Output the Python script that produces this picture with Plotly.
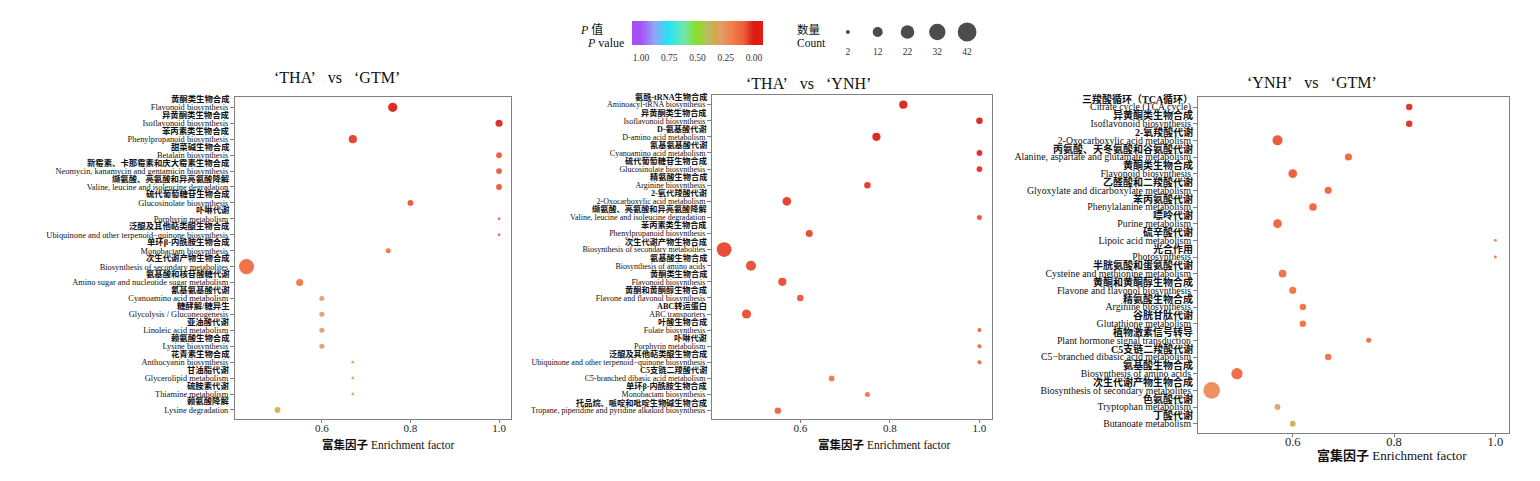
import plotly.graph_objects as go

FONT = "Liberation Serif, 'Noto Sans CJK SC', serif"
OFF = 8                      # page body margin
W, H = 1540 - OFF, 481 - OFF


def fx(px):
    return (px - OFF) / W


def fy(py):
    return 1 - (py - OFF) / H


# ---------------- data ----------------
en1 = ["Flavonoid biosynthesis", "Isoflavonoid biosynthesis", "Phenylpropanoid biosynthesis",
       "Betalain biosynthesis", "Neomycin, kanamycin and gentamicin biosynthesis",
       "Valine, leucine and isoleucine degradation", "Glucosinolate biosynthesis",
       "Porphyrin metabolism", "Ubiquinone and other terpenoid\u2212quinone biosynthesis",
       "Monobactam biosynthesis", "Biosynthesis of secondary metabolites",
       "Amino sugar and nucleotide sugar metabolism", "Cyanoamino acid metabolism",
       "Glycolysis / Gluconeogenesis", "Linoleic acid metabolism", "Lysine biosynthesis",
       "Anthocyanin biosynthesis", "Glycerolipid metabolism", "Thiamine metabolism",
       "Lysine degradation"]
cn1 = ["黄酮类生物合成", "异黄酮类生物合成", "苯丙素类生物合成", "甜菜碱生物合成",
       "新霉素、卡那霉素和庆大霉素生物合成", "缬氨酸、亮氨酸和异亮氨酸降解", "硫代葡萄糖苷生物合成",
       "卟啉代谢", "泛醌及其他萜类醌生物合成", "单环β-内酰胺生物合成", "次生代谢产物生物合成",
       "氨基酸和核苷酸糖代谢", "氰基氨基酸代谢", "糖酵解/糖异生", "亚油酸代谢", "赖氨酸生物合成",
       "花青素生物合成", "甘油脂代谢", "硫胺素代谢", "赖氨酸降解"]
ef1 = [0.76, 1.0, 0.67, 1.0, 1.0, 1.0, 0.80, 1.0, 1.0, 0.75, 0.43, 0.55, 0.60, 0.60, 0.60, 0.60,
       0.67, 0.67, 0.67, 0.50]
cnt1 = [10, 6, 8, 4, 4, 4, 4, 1, 1, 3, 27, 6, 3, 3, 3, 3, 1, 1, 1, 4]
p1 = [0.0, 0.01, 0.04, 0.08, 0.08, 0.08, 0.07, 0.15, 0.15, 0.15, 0.12, 0.15, 0.29, 0.29, 0.29,
      0.29, 0.40, 0.40, 0.40, 0.36]

en2 = ["Aminoacyl-tRNA biosynthesis", "Isoflavonoid biosynthesis", "D-amino acid metabolism",
       "Cyanoamino acid metabolism", "Glucosinolate biosynthesis", "Arginine biosynthesis",
       "2-Oxocarboxylic acid metabolism", "Valine, leucine and isoleucine degradation",
       "Phenylpropanoid biosynthesis", "Biosynthesis of secondary metabolites",
       "Biosynthesis of amino acids", "Flavonoid biosynthesis", "Flavone and flavonol biosynthesis",
       "ABC transporters", "Folate biosynthesis", "Porphyrin metabolism",
       "Ubiquinone and other terpenoid\u2212quinone biosynthesis",
       "C5-branched dibasic acid metabolism", "Monobactam biosynthesis",
       "Tropane, piperidine and pyridine alkaloid biosynthesis"]
cn2 = ["氨酰-tRNA生物合成", "异黄酮类生物合成", "D-氨基酸代谢", "氰基氨基酸代谢", "硫代葡萄糖苷生物合成",
       "精氨酸生物合成", "2-氧代羧酸代谢", "缬氨酸、亮氨酸和异亮氨酸降解", "苯丙素类生物合成",
       "次生代谢产物生物合成", "氨基酸生物合成", "黄酮类生物合成", "黄酮和黄酮醇生物合成", "ABC转运蛋白",
       "叶酸生物合成", "卟啉代谢", "泛醌及其他萜类醌生物合成", "C5支链二羧酸代谢", "单环β-内酰胺生物合成",
       "托品烷、哌啶和吡啶生物碱生物合成"]
ef2 = [0.83, 1.0, 0.77, 1.0, 1.0, 0.75, 0.57, 1.0, 0.62, 0.43, 0.49, 0.56, 0.60, 0.48, 1.0, 1.0,
       1.0, 0.67, 0.75, 0.55]
cnt2 = [8, 5, 8, 4, 4, 5, 9, 3, 6, 26, 12, 8, 5, 10, 2, 2, 2, 4, 3, 5]
p2 = [0.0, 0.0, 0.0, 0.01, 0.02, 0.03, 0.04, 0.07, 0.05, 0.05, 0.06, 0.06, 0.07, 0.06, 0.10,
      0.10, 0.10, 0.15, 0.15, 0.09]

en3 = ["Citrate cycle (TCA cycle)", "Isoflavonoid biosynthesis", "2-Oxocarboxylic acid metabolism",
       "Alanine, aspartate and glutamate metabolism", "Flavonoid biosynthesis",
       "Glyoxylate and dicarboxylate metabolism", "Phenylalanine metabolism", "Purine metabolism",
       "Lipoic acid metabolism", "Photosynthesis", "Cysteine and methionine metabolism",
       "Flavone and flavonol biosynthesis", "Arginine biosynthesis", "Glutathione metabolism",
       "Plant hormone signal transduction", "C5\u2212branched dibasic acid metabolism",
       "Biosynthesis of amino acids", "Biosynthesis of secondary metabolites",
       "Tryptophan metabolism", "Butanoate metabolism"]
cn3 = ["三羧酸循环（TCA循环）", "异黄酮类生物合成", "2-氧羧酸代谢", "丙氨酸、天冬氨酸和谷氨酸代谢",
       "黄酮类生物合成", "乙醛酸和二羧酸代谢", "苯丙氨酸代谢", "嘌呤代谢", "硫辛酸代谢", "光合作用",
       "半胱氨酸和蛋氨酸代谢", "黄酮和黄酮醇生物合成", "精氨酸生物合成", "谷胱甘肽代谢", "植物激素信号转导",
       "C5支链二羧酸代谢", "氨基酸生物合成", "次生代谢产物生物合成", "色氨酸代谢", "丁酸代谢"]
ef3 = [0.83, 0.83, 0.57, 0.71, 0.60, 0.67, 0.64, 0.57, 1.0, 1.0, 0.58, 0.60, 0.62, 0.62, 0.75,
       0.67, 0.49, 0.44, 0.57, 0.60]
cnt3 = [5, 5, 12, 6, 9, 6, 7, 9, 1, 1, 7, 6, 5, 5, 3, 5, 15, 33, 4, 4]
p3 = [0.02, 0.02, 0.07, 0.09, 0.08, 0.09, 0.09, 0.09, 0.17, 0.17, 0.12, 0.13, 0.13, 0.13, 0.12,
      0.13, 0.10, 0.22, 0.30, 0.34]

titles = ["\u2018THA\u2019\u2002 vs \u2002\u2018GTM\u2019",
          "\u2018THA\u2019\u2002 vs \u2002\u2018YNH\u2019",
          "\u2018YNH\u2019\u2002 vs \u2002\u2018GTM\u2019"]
xtitle = "<b>富集因子</b> Enrichment factor"
legend_counts = [2, 12, 22, 32, 42]
pval_ticks = [1.00, 0.75, 0.50, 0.25, 0.00]

# ---------------- styling / layout geometry ----------------
SREF = 4 / (2 * 2.9 ** 2)          # rendered diameter ~ 2.9*sqrt(count)
CMIN, CMAX = -0.08, 1.08
CS = [[0.0, '#A64CF7'], [0.069, '#A652F7'], [0.17, '#92A4F7'], [0.28, '#22E4F4'],
      [0.39, '#6CE6B4'], [0.5, '#88E020'], [0.58, '#BDB96C'], [0.63, '#D4AA45'],
      [0.68, '#E09C68'], [0.76, '#F2804C'], [0.85, '#F0603A'], [0.93, '#DA1A14'],
      [1.0, '#E41C10']]

panels = [
    dict(en=en1, cn=cn1, ef=ef1, cnt=cnt1, p=p1, x=(235, 511), y=(97, 419), xr=[0.404, 1.027],
         yr=[19.57, -0.65], fs_en=8.4, fs_cn=8.4, fs_tick=11, title_xy=(337, 77),
         xt_xy=(388, 444), fs_xt=11.5, cn_off=0.53, stand=-4),
    dict(en=en2, cn=cn2, ef=ef2, cnt=cnt2, p=p2, x=(712, 992), y=(95, 419), xr=[0.403, 1.028],
         yr=[19.52, -0.6], fs_en=8.0, fs_cn=8.2, fs_tick=11, title_xy=(808, 83),
         xt_xy=(884, 444), fs_xt=11.5, cn_off=0.5, stand=-4),
    dict(en=en3, cn=cn3, ef=ef3, cnt=cnt3, p=p3, x=(1198, 1509), y=(97, 433), xr=[0.413, 1.027],
         yr=[19.56, -0.6], fs_en=9.8, fs_cn=10.0, fs_tick=12.5, title_xy=(1312, 82),
         xt_xy=(1392, 455), fs_xt=13, cn_off=0.5, stand=-6),
]

fig = go.Figure()
layout = dict(width=W, height=H, margin=dict(l=0, r=0, t=0, b=0), template='none',
              paper_bgcolor='white', plot_bgcolor='white', showlegend=False,
              font=dict(family=FONT, color='#111'))
annotations = []

for k, pn in enumerate(panels):
    n = '' if k == 0 else str(k + 1)
    xa, ya = 'xaxis' + n, 'yaxis' + n
    color = [1 - v for v in pn['p']]
    marker = dict(size=pn['cnt'], sizemode='area', sizeref=SREF, color=color, colorscale=CS,
                  cmin=CMIN, cmax=CMAX, opacity=0.92, line=dict(width=0))
    if k == 0:
        marker['showscale'] = True
        marker['colorbar'] = dict(
            orientation='h', x=fx(697.5), xanchor='center', y=fy(21), yanchor='top',
            len=131 / W, lenmode='fraction', thickness=24, thicknessmode='pixels',
            outlinewidth=0, xpad=0, ypad=0, ticks='outside', ticklen=5,
            tickcolor='rgba(0,0,0,0)',
            tickvals=[1 - v for v in pval_ticks], ticktext=[f"{v:.2f}" for v in pval_ticks],
            tickfont=dict(size=9.5, family=FONT, color='#333'))
    fig.add_trace(go.Scatter(x=pn['ef'], y=pn['en'], mode='markers', marker=marker,
                             cliponaxis=False, xaxis='x' + n, yaxis='y' + n, hoverinfo='x+y'))
    layout[xa] = dict(domain=[fx(pn['x'][0]), fx(pn['x'][1])], anchor='y' + n,
                      range=pn['xr'], tick0=0, dtick=0.2, tickformat='.1f',
                      showgrid=False, zeroline=False, showline=True, mirror=True,
                      linecolor='#808080', linewidth=1, ticks='outside', ticklen=3,
                      tickcolor='#808080', automargin=False, ticklabelstandoff=pn['stand'],
                      tickfont=dict(size=pn['fs_tick'], family=FONT, color='#222'))
    layout[ya] = dict(domain=[fy(pn['y'][1]), fy(pn['y'][0])], anchor='x' + n,
                      type='category', categoryorder='array', categoryarray=pn['en'],
                      range=pn['yr'], autorange=False,
                      showgrid=False, zeroline=False, showline=True, mirror=True,
                      linecolor='#808080', linewidth=1, ticks='outside', ticklen=4,
                      tickcolor='#808080', automargin=False,
                      tickfont=dict(size=pn['fs_en'], family=FONT, color='#111'))
    for i, c in enumerate(pn['cn']):
        annotations.append(dict(x=0, xref='x' + n + ' domain', y=i - pn['cn_off'], yref='y' + n,
                                xanchor='right', yanchor='middle', xshift=-4, showarrow=False,
                                text='<b>' + c + '</b>', borderpad=0,
                                font=dict(size=pn['fs_cn'], family=FONT, color='#111')))
    annotations.append(dict(x=fx(pn['title_xy'][0]), y=fy(pn['title_xy'][1]), xref='paper',
                            yref='paper', xanchor='center', yanchor='middle', showarrow=False,
                            text=titles[k], font=dict(size=16, family=FONT, color='#111')))
    annotations.append(dict(x=fx(pn['xt_xy'][0]), y=fy(pn['xt_xy'][1]), xref='paper',
                            yref='paper', xanchor='center', yanchor='middle', showarrow=False,
                            text=xtitle, font=dict(size=pn['fs_xt'], family=FONT, color='#111')))

# size legend
fig.add_trace(go.Scatter(x=[str(c) for c in legend_counts], y=[1] * len(legend_counts),
                         mode='markers', xaxis='x4', yaxis='y4', hoverinfo='skip',
                         cliponaxis=False,
                         marker=dict(size=legend_counts, sizemode='area', sizeref=SREF,
                                     color='black', line=dict(width=0))))
layout['xaxis4'] = dict(domain=[fx(833), fx(982)], anchor='y4', type='category',
                        range=[-0.5, 4.5], showgrid=False, zeroline=False, showline=False,
                        ticks='', automargin=False,
                        tickfont=dict(size=9.5, family=FONT, color='#333'))
layout['yaxis4'] = dict(domain=[fy(44), fy(20)], anchor='x4', range=[0, 2], visible=False)

for txt, x, y, fs in [("<i>P</i> 值", 578, 30, 12), ("<i>P</i> value", 585, 43, 12),
                      ("数量", 795, 30, 11.5), ("Count", 795, 43, 11.5)]:
    annotations.append(dict(x=fx(x), y=fy(y), xref='paper', yref='paper', xanchor='left',
                            yanchor='middle', showarrow=False, text=txt,
                            font=dict(size=fs, family=FONT, color='#111')))

layout['annotations'] = annotations
fig.update_layout(**layout)
fig.write_html("out.html")
